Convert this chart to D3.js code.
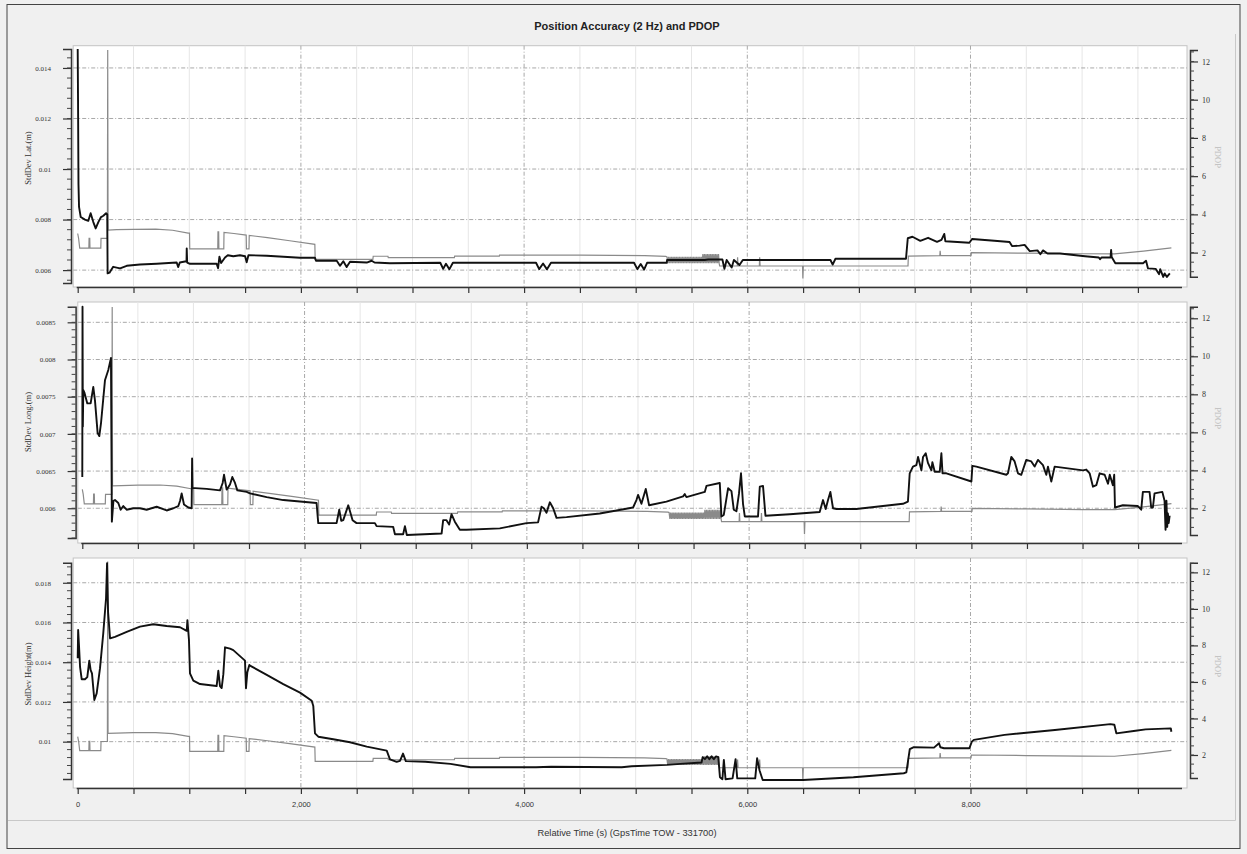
<!DOCTYPE html>
<html><head><meta charset="utf-8">
<script src="https://cdn.jsdelivr.net/npm/d3@7"></script>
<style>
body{margin:0;background:#f0f0f0;}
svg{display:block;}
</style>
</head><body>
<svg id="chart" width="1247" height="854"></svg>
<script>
// Time axis (s, relative to GpsTime TOW 331700)
const timeMax = 9940;
const timeTicks = [0, 2000, 4000, 6000, 8000];

// Left-axis ticks per panel
const latTicks = [0.006, 0.008, 0.01, 0.012, 0.014];
const longTicks = [0.006, 0.0065, 0.007, 0.0075, 0.008, 0.0085];
const heightTicks = [0.01, 0.012, 0.014, 0.016, 0.018];
const pdopTicks = [2, 4, 6, 8, 10, 12];

// PDOP [time, value] (shared by all three panels, right axis)
const pdop = [
  [0,3.0],[8,2.75],[18,2.24],[100,2.24],[102,2.75],[108,2.75],[110,2.24],[207,2.24],[209,2.74],
  [266,2.74],[269,12.6],[272,3.18],[350,3.2],[500,3.22],[700,3.23],[850,3.17],[990,3.02],[1002,3.02],
  [1004,2.2],[1255,2.2],[1257,3.08],[1263,3.08],[1265,2.2],[1309,2.2],[1311,3.06],[1400,3.0],
  [1510,2.92],[1512,2.2],[1535,2.2],[1537,2.9],[1700,2.78],[1900,2.62],[2125,2.43],[2128,1.65],
  [2645,1.65],[2648,1.81],[2780,1.81],[2783,1.74],[3375,1.74],[3378,1.82],[3778,1.82],[3780,1.87],
  [4500,1.87],[5080,1.84],[5270,1.8],
  [5280,1.78],[5287,1.45],[5294,1.78],[5301,1.45],[5308,1.78],[5315,1.45],[5322,1.78],[5329,1.45],
  [5336,1.78],[5343,1.45],[5350,1.78],[5357,1.45],[5364,1.78],[5371,1.45],[5378,1.78],[5385,1.45],
  [5392,1.78],[5399,1.45],[5406,1.78],[5413,1.45],[5420,1.78],[5427,1.45],[5434,1.78],[5441,1.45],
  [5448,1.78],[5455,1.45],[5462,1.78],[5469,1.45],[5476,1.78],[5483,1.45],[5490,1.78],[5497,1.45],
  [5504,1.78],[5511,1.45],[5518,1.78],[5525,1.45],[5532,1.78],[5539,1.45],[5546,1.78],[5553,1.45],
  [5560,1.78],[5567,1.45],[5574,1.78],[5581,1.45],[5588,1.78],[5595,1.45],[5602,1.93],[5609,1.45],
  [5616,1.93],[5623,1.45],[5630,1.93],[5637,1.45],[5644,1.93],[5651,1.45],[5658,1.93],[5665,1.45],
  [5672,1.93],[5679,1.45],[5686,1.93],[5693,1.45],[5700,1.93],[5707,1.45],[5714,1.93],[5721,1.45],
  [5728,1.93],[5735,1.45],[5742,1.93],[5748,1.45],
  [5752,1.3],[5910,1.3],[5913,1.75],[5917,1.3],[6108,1.3],[6111,1.75],[6115,1.3],[6495,1.3],
  [6498,0.65],[6502,1.3],[7440,1.3],[7443,1.82],[7725,1.84],[7728,2.1],[7732,1.84],[8005,1.84],
  [8008,2.0],[8500,1.97],[9000,1.94],[9290,1.93],[9550,2.08],[9800,2.25]
];

// StdDev Lat (m)
const latSd = [
  [0,0.01475],[3,0.0127],[7,0.0094],[12,0.0085],[27,0.0081],[65,0.008],[95,0.00795],[116,0.00825],
  [140,0.0079],[161,0.00765],[185,0.0079],[209,0.0081],[230,0.00815],[254,0.00825],[265,0.0082],
  [268,0.00587],[285,0.0059],[318,0.00613],[380,0.00607],[439,0.00617],[558,0.00622],[708,0.00625],
  [887,0.0063],[900,0.00612],[915,0.0063],[961,0.00634],[975,0.00634],[977,0.00686],[981,0.0063],
  [1006,0.00625],[1245,0.00625],[1258,0.00608],[1270,0.00653],[1285,0.00628],[1320,0.0065],
  [1345,0.00659],[1394,0.00655],[1454,0.00659],[1500,0.00655],[1514,0.00631],[1530,0.00659],
  [1694,0.00657],[1992,0.00649],[2126,0.00649],[2135,0.00637],[2321,0.00637],[2350,0.00617],
  [2380,0.00635],[2410,0.00612],[2440,0.00633],[2590,0.0063],[2634,0.00637],[2660,0.0063],
  [2798,0.00627],[3249,0.00629],[3275,0.00605],[3300,0.00625],[3330,0.00603],[3362,0.00629],
  [4107,0.00629],[4135,0.00604],[4170,0.00626],[4205,0.00603],[4241,0.00629],[4985,0.00629],
  [5015,0.00604],[5045,0.00624],[5075,0.00602],[5102,0.00629],[5278,0.00629],[5281,0.0064],
  [5619,0.0064],[5650,0.00642],[5777,0.00642],[5795,0.00605],[5815,0.0064],[5860,0.0061],
  [5880,0.0064],[5930,0.0062],[5960,0.0064],[6138,0.0064],[6745,0.0064],[6765,0.00622],
  [6790,0.00645],[7422,0.00645],[7438,0.00726],[7480,0.00732],[7550,0.00716],[7620,0.00728],
  [7700,0.00712],[7740,0.0072],[7765,0.00743],[7775,0.00714],[7990,0.00708],[8014,0.00723],
  [8214,0.00716],[8350,0.00711],[8372,0.00695],[8440,0.00697],[8485,0.007],[8531,0.00675],
  [8600,0.00678],[8626,0.00663],[8650,0.00678],[8690,0.00666],[8802,0.00666],[9026,0.00655],
  [9150,0.0065],[9161,0.00643],[9175,0.0065],[9255,0.0065],[9260,0.0068],[9265,0.00652],
  [9298,0.00627],[9546,0.00627],[9573,0.00637],[9590,0.00607],[9659,0.00605],[9690,0.00584],
  [9700,0.00604],[9727,0.00573],[9740,0.00587],[9760,0.00573],[9786,0.00587]
];

// StdDev Long. (m)
const longSd = [
  [0,0.00642],[2,0.00871],[5,0.0071],[9,0.00759],[20,0.00755],[45,0.00741],[75,0.00741],[99,0.00763],
  [114,0.00745],[138,0.00701],[153,0.00697],[168,0.00714],[204,0.00772],[234,0.00786],[258,0.00802],
  [262,0.0069],[266,0.00582],[280,0.0061],[294,0.00611],[324,0.00607],[345,0.00598],[369,0.00603],
  [399,0.00598],[459,0.006],[519,0.006],[579,0.00598],[669,0.00602],[759,0.00597],[819,0.006],
  [864,0.00603],[880,0.0061],[894,0.0062],[915,0.00605],[954,0.00601],[984,0.006],[988,0.00667],
  [992,0.00627],[1014,0.00627],[1119,0.00626],[1239,0.00624],[1263,0.00634],[1275,0.00645],
  [1299,0.00625],[1329,0.00632],[1350,0.00642],[1374,0.00634],[1395,0.00624],[1479,0.00622],
  [1509,0.0062],[1659,0.00615],[1808,0.00611],[1958,0.00609],[2108,0.00607],[2123,0.0058],
  [2288,0.0058],[2312,0.00598],[2330,0.00583],[2348,0.00584],[2393,0.00604],[2432,0.00584],
  [2468,0.0058],[2633,0.0058],[2648,0.00576],[2797,0.00575],[2813,0.00565],[2887,0.00565],
  [2903,0.00576],[2920,0.00564],[3233,0.00566],[3247,0.00584],[3277,0.00584],[3301,0.00578],
  [3322,0.00592],[3352,0.00582],[3397,0.00571],[3457,0.00571],[3757,0.00573],[3997,0.0058],
  [4101,0.00581],[4132,0.00602],[4153,0.006],[4177,0.00594],[4207,0.00608],[4237,0.006],
  [4267,0.00587],[4357,0.00588],[4656,0.00593],[4956,0.00601],[4986,0.00611],[5001,0.00618],
  [5031,0.00606],[5070,0.00626],[5100,0.00604],[5256,0.00609],[5406,0.00616],[5421,0.00619],
  [5436,0.00615],[5601,0.00622],[5616,0.0063],[5736,0.00634],[5751,0.00589],[5772,0.00591],
  [5811,0.00627],[5841,0.00623],[5862,0.00598],[5886,0.00596],[5909,0.0062],[5927,0.00647],
  [5945,0.00606],[5961,0.00589],[6080,0.00589],[6096,0.00629],[6125,0.0063],[6147,0.0059],
  [6366,0.00592],[6635,0.00595],[6650,0.00603],[6665,0.00611],[6689,0.00599],[6710,0.00611],
  [6731,0.00622],[6755,0.006],[6786,0.00599],[6965,0.00599],[7384,0.00606],[7429,0.00609],
  [7445,0.00647],[7474,0.00656],[7505,0.00658],[7520,0.00669],[7550,0.00651],[7565,0.00669],
  [7589,0.00674],[7609,0.00661],[7640,0.00651],[7649,0.00662],[7670,0.00649],[7715,0.00649],
  [7730,0.00674],[7740,0.00647],[7775,0.00647],[8000,0.00636],[8009,0.00657],[8045,0.00656],
  [8314,0.00645],[8329,0.00647],[8359,0.00669],[8389,0.00663],[8419,0.00647],[8449,0.00645],
  [8494,0.00665],[8539,0.00663],[8569,0.00656],[8599,0.00665],[8644,0.00658],[8674,0.00645],
  [8689,0.00656],[8719,0.00636],[8749,0.00656],[9004,0.00651],[9034,0.00652],[9064,0.00647],
  [9094,0.00629],[9124,0.00631],[9154,0.00647],[9199,0.00645],[9229,0.00633],[9245,0.00645],
  [9273,0.00631],[9285,0.00645],[9292,0.00601],[9363,0.00604],[9498,0.00603],[9528,0.00598],
  [9543,0.00622],[9603,0.00622],[9618,0.00601],[9633,0.00601],[9648,0.0062],[9718,0.00622],
  [9738,0.0061],[9747,0.00571],[9755,0.0061],[9762,0.00575],[9768,0.00593],[9775,0.0058],[9784,0.0059]
];

// StdDev Height (m)
const heightSd = [
  [0,0.0142],[4,0.01562],[12,0.0148],[21,0.01377],[36,0.01314],[65,0.01314],[86,0.01325],
  [104,0.01408],[116,0.0136],[128,0.01344],[149,0.0121],[170,0.01243],[200,0.0137],[229,0.01545],
  [254,0.01722],[263,0.01898],[272,0.01654],[290,0.0152],[334,0.01528],[439,0.01553],[558,0.01579],
  [677,0.01591],[797,0.01582],[917,0.01576],[977,0.01558],[983,0.01612],[997,0.01512],[1006,0.01344],
  [1036,0.01307],[1096,0.0129],[1245,0.0128],[1260,0.01357],[1275,0.0128],[1290,0.0127],
  [1305,0.0134],[1320,0.01475],[1365,0.01468],[1394,0.01461],[1499,0.01408],[1508,0.01269],
  [1520,0.0135],[1538,0.01386],[1544,0.01383],[1694,0.01336],[1842,0.0129],[1992,0.01247],
  [2097,0.01206],[2111,0.0118],[2126,0.01042],[2156,0.01025],[2290,0.01012],[2440,0.00997],
  [2590,0.00975],[2769,0.00955],[2798,0.00911],[2858,0.00898],[2888,0.00903],[2915,0.0094],
  [2940,0.00902],[3114,0.00899],[3340,0.00888],[3520,0.00871],[4107,0.00871],[4242,0.00874],
  [4875,0.00871],[4964,0.00876],[5281,0.00883],[5400,0.00888],[5590,0.00895],[5600,0.00922],
  [5620,0.00912],[5640,0.00926],[5660,0.00912],[5680,0.00926],[5700,0.00912],[5720,0.00926],
  [5740,0.00922],[5755,0.00821],[5777,0.00811],[5790,0.00908],[5805,0.00811],[5868,0.00815],
  [5895,0.00912],[5910,0.00815],[6071,0.00815],[6088,0.00917],[6110,0.00855],[6138,0.00807],
  [6499,0.00807],[6951,0.00821],[7402,0.00841],[7425,0.00845],[7456,0.00962],[7492,0.00972],
  [7673,0.0097],[7718,0.00992],[7730,0.00972],[7763,0.00967],[7990,0.00967],[8012,0.01],
  [8030,0.01009],[8305,0.01034],[8756,0.01059],[9253,0.01088],[9289,0.01085],[9307,0.01042],
  [9479,0.01055],[9569,0.01062],[9795,0.01067],[9800,0.0105]
];

const panels = [
  { sd: latSd, ticks: latTicks, minor: 0.0004, title: "StdDev Lat.(m)",
    x0: 77.7, top: 45.7, axisY: 287, yDom: [0.00549, 0.01475], yRng: [283, 49],
    pDom: [0.74, 12.6], pRng: [276.7, 50], titleY: 158, pTitleY: 157 },
  { sd: longSd, ticks: longTicks, minor: 0.0001, title: "StdDev Long.(m)",
    x0: 82.3, top: 302, axisY: 543, yDom: [0.0056, 0.00871], yRng: [538, 306.7],
    pDom: [0.6, 12.61], pRng: [535, 306.7], titleY: 422, pTitleY: 418 },
  { sd: heightSd, ticks: heightTicks, minor: 0.0004, title: "StdDev Height(m)",
    x0: 77.7, top: 558, axisY: 788, yDom: [0.00812, 0.01901], yRng: [779, 562.7],
    pDom: [0.74, 12.53], pRng: [778, 562.7], titleY: 674, pTitleY: 666 }
];

const plotRight = 1187, rightAxisX = 1190;
const svg = d3.select("#chart");
const defs = svg.append("defs");

// window background and frame
svg.append("rect").attr("x", 0).attr("y", 0).attr("width", 1247).attr("height", 854).attr("fill", "#f0f0f0");
svg.append("rect").attr("x", 7).attr("y", 4.5).attr("width", 1233).attr("height", 844)
  .attr("fill", "none").attr("stroke", "#444").attr("stroke-width", 1);
svg.append("line").attr("x1", 1235.5).attr("x2", 1235.5).attr("y1", 34).attr("y2", 820.5)
  .attr("stroke", "#c8c8c8");
svg.append("line").attr("x1", 8).attr("x2", 1235.5).attr("y1", 820.5).attr("y2", 820.5)
  .attr("stroke", "#c8c8c8");

svg.append("text").attr("x", 627).attr("y", 30).attr("text-anchor", "middle")
  .style("font-family", "'Liberation Sans', Arial, sans-serif").style("font-weight", "bold")
  .style("font-size", "11px").attr("fill", "#222").text("Position Accuracy (2 Hz) and PDOP");

svg.append("text").attr("x", 627).attr("y", 836).attr("text-anchor", "middle")
  .style("font-family", "'Liberation Sans', Arial, sans-serif").style("font-size", "9.3px")
  .attr("fill", "#333").text("Relative Time (s) (GpsTime TOW - 331700)");

const fmtY = d3.format("~g");
const fmtX = d3.format(",");
const serif = "'Liberation Serif', 'Times New Roman', serif";

panels.forEach((p, i) => {
  const g = svg.append("g");
  const frameL = p.x0 - 4.5;
  const x = d3.scaleLinear().domain([0, timeMax]).range([p.x0, plotRight]);
  const y = d3.scaleLinear().domain(p.yDom).range(p.yRng);
  const yp = d3.scaleLinear().domain(p.pDom).range(p.pRng);

  // plot area
  g.append("rect").attr("x", frameL).attr("y", p.top).attr("width", plotRight - frameL)
    .attr("height", p.axisY - p.top).attr("fill", "#fff").attr("stroke", "#c4c4c4");

  // vertical grid: faint every 500 s, dash-dot on labelled ticks
  d3.range(500, timeMax, 500).forEach(t => {
    const major = timeTicks.includes(t);
    g.append("line").attr("x1", x(t)).attr("x2", x(t)).attr("y1", p.top).attr("y2", p.axisY)
      .attr("stroke", major ? "#a8a8a8" : "#e6e6e6").attr("stroke-width", 1)
      .attr("stroke-dasharray", major ? "4,2,1,2" : null);
  });
  // horizontal grid on left-axis ticks
  p.ticks.forEach(v => {
    g.append("line").attr("x1", frameL).attr("x2", plotRight).attr("y1", y(v)).attr("y2", y(v))
      .attr("stroke", "#a8a8a8").attr("stroke-dasharray", "4,2,1,2");
  });

  // clipped series
  const clipId = "clip" + i;
  defs.append("clipPath").attr("id", clipId).append("rect")
    .attr("x", frameL).attr("y", p.top).attr("width", plotRight - frameL).attr("height", p.axisY - p.top);
  const lines = g.append("g").attr("clip-path", `url(#${clipId})`);
  lines.append("path").datum(pdop)
    .attr("d", d3.line().x(d => x(d[0])).y(d => yp(d[1])))
    .attr("fill", "none").attr("stroke", "#8a8a8a").attr("stroke-width", 1.2);
  lines.append("path").datum(p.sd)
    .attr("d", d3.line().x(d => x(d[0])).y(d => y(d[1])))
    .attr("fill", "none").attr("stroke", "#111").attr("stroke-width", 1.9)
    .attr("stroke-linejoin", "round");

  // left axis
  const lx = p.x0 - 6.7;
  const leftAxis = d3.axisLeft(y).tickValues(p.ticks).tickFormat(fmtY).tickSize(8).tickPadding(12);
  const la = g.append("g").attr("transform", `translate(${lx},0)`).call(leftAxis);
  const n0 = Math.ceil(p.yDom[0] / p.minor - 1e-6), n1 = Math.floor(p.yDom[1] / p.minor + 1e-6);
  d3.range(n0, n1 + 1).forEach(k => {
    const v = k * p.minor;
    g.append("line").attr("x1", lx - 4).attr("x2", lx).attr("y1", y(v)).attr("y2", y(v))
      .attr("stroke", "#444");
  });

  // right axis (PDOP)
  const rightAxis = d3.axisRight(yp).tickValues(pdopTicks).tickSize(8).tickPadding(4);
  const ra = g.append("g").attr("transform", `translate(${rightAxisX},0)`).call(rightAxis);
  d3.range(Math.ceil(p.pDom[0] * 2), Math.floor(p.pDom[1] * 2) + 1).forEach(k => {
    g.append("line").attr("x1", rightAxisX).attr("x2", rightAxisX + 4)
      .attr("y1", yp(k / 2)).attr("y2", yp(k / 2)).attr("stroke", "#444");
  });

  // bottom axis
  const bottomAxis = d3.axisBottom(x).tickValues(d3.range(0, timeMax, 500)).tickSize(6)
    .tickFormat(t => (i === 2 && timeTicks.includes(t)) ? fmtX(t) : "").tickPadding(8);
  const ba = g.append("g").attr("transform", `translate(0,${p.axisY})`).call(bottomAxis);
  ba.select(".domain").attr("d", `M${p.x0 - 1},0.5H${plotRight - 5}`);

  [la, ra, ba].forEach(a => {
    a.select(".domain").attr("stroke", "#333").attr("stroke-width", 1.5);
    a.selectAll(".tick line").attr("stroke", "#333").attr("stroke-width", 1.2);
    a.selectAll("text").attr("fill", "#333");
  });
  la.selectAll("text").style("font-family", serif).style("font-size", "7px");
  ra.selectAll("text").style("font-family", serif).style("font-size", "8px");
  ba.selectAll("text").style("font-family", "'Liberation Sans', Arial, sans-serif").style("font-size", "7.5px");

  // axis titles
  g.append("text").attr("transform", `translate(31,${p.titleY}) rotate(-90)`)
    .attr("text-anchor", "middle").style("font-family", serif).style("font-size", "8.5px")
    .attr("fill", "#333").text(p.title);
  g.append("text").attr("transform", `translate(1215,${p.pTitleY}) rotate(90)`)
    .attr("text-anchor", "middle").style("font-family", serif).style("font-size", "8.5px")
    .attr("fill", "#bdbdbd").text("PDOP");
});
</script>
</body></html>
